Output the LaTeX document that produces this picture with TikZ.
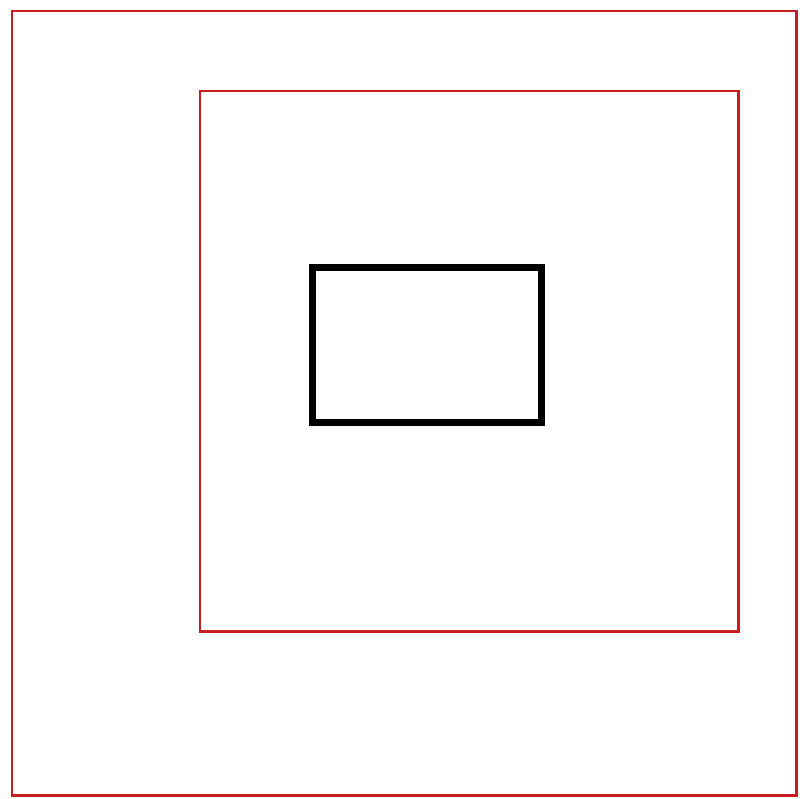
\documentclass[tikz,border=0pt]{standalone}
\usepackage{xcolor}
\usepackage{tikz}

\definecolor{framered}{RGB}{200,30,35}

\begin{document}
\begin{tikzpicture}[
    x=0.02cm, y=-0.02cm,
    outerframe/.style={draw=framered, line width=1.7pt},
    innerframe/.style={draw=framered, line width=1.7pt},
    core/.style={draw=black, line width=4pt}
]
\useasboundingbox (0,0) rectangle (800,798);

% Outer frame
\draw[outerframe] (12,11) rectangle (796,795);

% Inner frame
\draw[innerframe] (200,91) rectangle (738,631);

% Core box
\draw[core] (312.5,267.5) rectangle (541.5,422.5);
\end{tikzpicture}
\end{document}
